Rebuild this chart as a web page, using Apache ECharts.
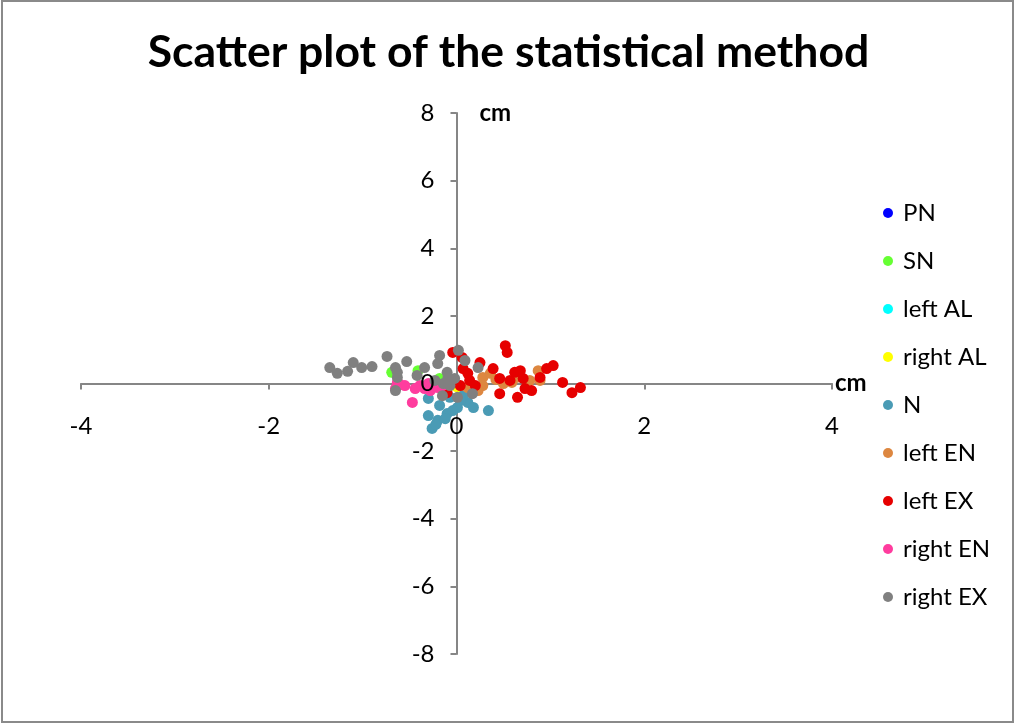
<!DOCTYPE html>
<html>
<head>
<meta charset="utf-8">
<script src="https://cdn.jsdelivr.net/npm/echarts@6/dist/echarts.min.js"></script>
<style>
html,body{margin:0;padding:0;background:#fff;}
#chart{width:1017px;height:724px;}
</style>
</head>
<body>
<div id="chart"></div>
<script>
const titleText = 'Scatter plot of the statistical method';
const seriesNames = ['PN','SN','left AL','right AL','N','left EN','left EX','right EN','right EX'];
const seriesColors = ['#0000FF','#66FF33','#00FFFF','#FFFF00','#4A9BB5','#DD8740','#E60000','#FF3C9E','#808080'];
const xTicks = [-4,-2,0,2,4];
const yTicks = [-8,-6,-4,-2,0,2,4,6,8];

const PN = [[-0.02,0.0]];
const SN = [[-0.41,0.38],[-0.18,0.15],[-0.69,0.33],[-0.05,0.02]];
const leftAL = [[0.09,-0.21],[0.07,-0.15]];
const rightAL = [[0.04,-0.15],[0.0,-0.09]];
const N = [[-0.30,-0.95],[-0.26,-1.33],[-0.20,-1.09],[-0.10,-0.89],[-0.18,-0.65],[0.01,-0.71],[0.12,-0.56],[0.18,-0.71],[0.34,-0.80],[0.07,-0.36],[-0.30,-0.44],[-0.04,-0.80],[-0.12,-1.04],[-0.22,-1.21],[0.04,-0.50],[-0.07,-0.41]];
const leftEN = [[0.28,0.18],[0.36,0.30],[0.28,-0.06],[0.23,-0.21],[0.50,0.0],[0.59,0.03],[0.64,0.18],[0.78,0.09],[0.87,0.38],[0.89,0.09],[0.12,-0.12],[0.42,0.12]];
const leftEX = [[-0.04,0.92],[0.06,0.77],[0.25,0.62],[0.52,1.12],[0.54,0.92],[0.39,0.44],[0.62,0.33],[0.68,0.38],[0.46,0.15],[0.57,0.09],[0.71,0.15],[0.73,-0.15],[0.80,-0.21],[0.89,0.18],[0.96,0.44],[1.03,0.53],[1.13,0.03],[1.23,-0.27],[1.32,-0.12],[0.46,-0.30],[0.65,-0.41],[0.12,0.30],[0.14,0.09],[0.07,0.44],[0.20,-0.06],[-0.10,-0.27],[0.04,-0.06]];
const rightEN = [[-0.63,0.03],[-0.65,-0.15],[-0.60,-0.03],[-0.47,-0.56],[-0.39,-0.06],[-0.28,-0.21],[-0.20,-0.12],[-0.23,0.03],[-0.34,-0.15],[-0.15,-0.06],[-0.55,-0.06],[-0.44,-0.15],[-0.30,0.0]];
const rightEX = [[-1.35,0.47],[-1.27,0.30],[-1.16,0.36],[-1.10,0.62],[-1.01,0.47],[-0.90,0.50],[-0.74,0.80],[-0.65,0.47],[-0.63,0.33],[-0.63,0.18],[-0.65,-0.21],[-0.53,0.65],[-0.42,0.24],[-0.34,0.47],[-0.20,0.59],[-0.18,0.83],[-0.10,0.33],[-0.14,0.0],[-0.15,-0.36],[-0.09,0.18],[0.02,0.98],[0.09,0.68],[0.23,0.47],[0.01,-0.41],[0.17,-0.30],[-0.07,-0.06],[-0.23,0.09],[-0.02,0.15]];

const allData = [PN,SN,leftAL,rightAL,N,leftEN,leftEX,rightEN,rightEX];

const FONT = 'Lato, "Open Sans", sans-serif';
const GRID = {left: 81, right: 185, top: 113, bottom: 70};
const W = 1017, H = 724;
const gridW = W - GRID.left - GRID.right;
const gridH = H - GRID.top - GRID.bottom;

const chart = echarts.init(document.getElementById('chart'));
const axisGrey = '#868686';
const labelStyle = {fontFamily: FONT, fontSize: 24, color: '#000', showMinLabel: true, showMaxLabel: true};

function xAxisDef(asLabels) {
  return {
    type: 'value', min: xTicks[0], max: xTicks[xTicks.length-1], interval: 2,
    position: 'bottom', offset: -gridH / 2,
    z: asLabels ? 10 : 0,
    name: asLabels ? '' : 'cm', nameLocation: 'end', nameGap: 3,
    nameTextStyle: {fontFamily: FONT, fontSize: 24, fontWeight: 'bold', color: '#000', verticalAlign: 'middle', padding: [4,0,0,0]},
    axisLine: {show: !asLabels, onZero: false, lineStyle: {color: axisGrey, width: 2}},
    axisTick: {show: !asLabels, inside: false, length: 6, lineStyle: {color: axisGrey, width: 2}},
    axisLabel: Object.assign({show: asLabels, margin: 31}, labelStyle),
    splitLine: {show: false}
  };
}
function yAxisDef(asLabels) {
  return {
    type: 'value', min: yTicks[0], max: yTicks[yTicks.length-1], interval: 2,
    position: 'left', offset: -gridW / 2,
    z: asLabels ? 10 : 0,
    name: asLabels ? '' : 'cm', nameLocation: 'end', nameGap: 0,
    nameTextStyle: {fontFamily: FONT, fontSize: 24, fontWeight: 'bold', color: '#000', align: 'left', verticalAlign: 'middle', padding: [0,0,0,23]},
    axisLine: {show: !asLabels, onZero: false, lineStyle: {color: axisGrey, width: 2}},
    axisTick: {show: !asLabels, inside: false, length: 6, lineStyle: {color: axisGrey, width: 2}},
    axisLabel: Object.assign({show: asLabels, margin: 22}, labelStyle),
    splitLine: {show: false}
  };
}

chart.setOption({
  animation: false,
  backgroundColor: '#fff',
  title: {
    text: titleText,
    left: 'center',
    top: 25,
    textStyle: {fontFamily: FONT, fontSize: 44.5, fontWeight: 'bold', color: '#000'}
  },
  legend: {
    orient: 'vertical',
    left: 878,
    top: 196,
    itemWidth: 10,
    itemHeight: 10,
    itemGap: 24,
    icon: 'circle',
    data: seriesNames,
    textStyle: {fontFamily: FONT, fontSize: 24, color: '#000', padding: [0,0,0,5]}
  },
  grid: Object.assign({containLabel: false}, GRID),
  xAxis: [xAxisDef(false), xAxisDef(true)],
  yAxis: [yAxisDef(false), yAxisDef(true)],
  graphic: [{
    type: 'rect', silent: true,
    shape: {x: 2, y: 1, width: 1011, height: 721},
    style: {fill: 'none', stroke: '#8a8a8a', lineWidth: 2}
  }],
  series: seriesNames.map((n, i) => ({
    name: n,
    type: 'scatter',
    xAxisIndex: 0,
    yAxisIndex: 0,
    z: 2,
    data: allData[i],
    symbol: 'circle',
    symbolSize: 11,
    itemStyle: {color: seriesColors[i], opacity: 1}
  }))
});
</script>
</body>
</html>
